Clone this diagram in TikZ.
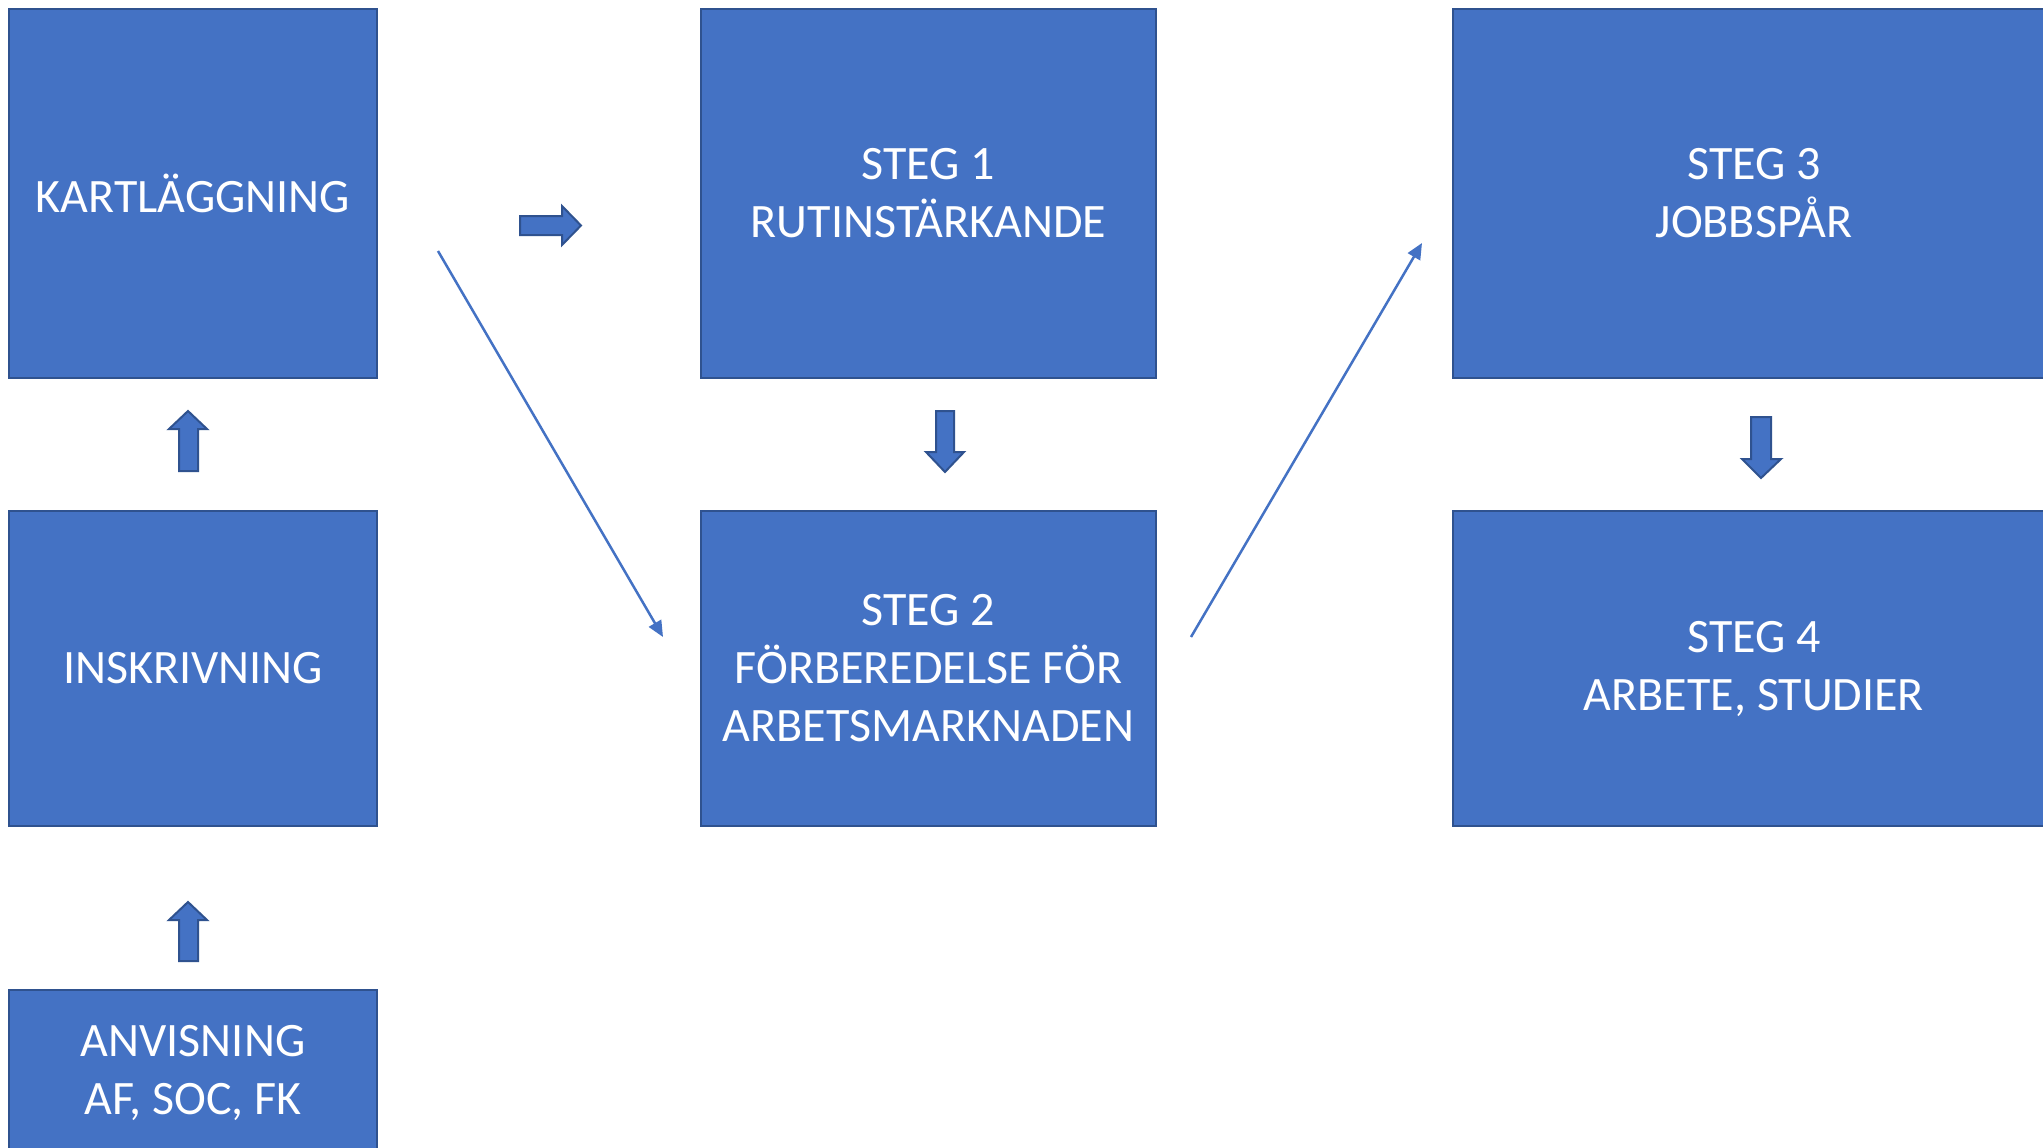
\documentclass[tikz,border=0pt]{standalone}
\usepackage{fontspec}
\setmainfont{Carlito}
\usetikzlibrary{arrows.meta}
\definecolor{boxfill}{HTML}{4472C4}
\definecolor{boxline}{HTML}{2F528F}
\begin{document}
\begin{tikzpicture}[x=1pt,y=-1pt,
  stepbox/.style={draw=boxline, fill=boxfill, line width=2pt, text=white, align=center,
    font=\fontsize{48}{58}\selectfont, inner sep=0pt, outer sep=0pt},
  blockarrow/.style={draw=boxline, fill=boxfill, line width=2pt, line join=miter},
  thinarrow/.style={draw=boxfill, line width=2.5pt, -{Triangle[length=16pt,width=14pt]}}]
\useasboundingbox[fill=white] (0,0) rectangle (2043,1148);
\clip (0,0) rectangle (2043,1148);
% boxes
\node[stepbox, minimum width=368pt, minimum height=369pt] (kart) at (193,193.5) {KARTLÄGGNING};
\node[stepbox, minimum width=368pt, minimum height=315pt] (insk) at (193,668.5) {INSKRIVNING};
\node[stepbox, minimum width=368pt, minimum height=166pt] (anv) at (193,1073) {ANVISNING\\AF, SOC, FK};
\node[stepbox, minimum width=455pt, minimum height=369pt] (steg1) at (928.5,193.5) {STEG 1\\RUTINSTÄRKANDE};
\node[stepbox, minimum width=455pt, minimum height=315pt] (steg2) at (928.5,668.5) {STEG 2\\FÖRBEREDELSE FÖR\\ARBETSMARKNADEN};
\node[stepbox, minimum width=602pt, minimum height=369pt] (steg3) at (1754,193.5) {STEG 3\\JOBBSPÅR};
\node[stepbox, minimum width=602pt, minimum height=315pt] (steg4) at (1754,668.5) {STEG 4\\ARBETE, STUDIER};
% block arrows
\draw[blockarrow] (179,471) -- (179,429) -- (169,429) -- (188,411) -- (207,429) -- (198,429) -- (198,471) -- cycle;
\draw[blockarrow] (179,961) -- (179,920) -- (169,920) -- (188,902) -- (207,920) -- (198,920) -- (198,961) -- cycle;
\draw[blockarrow] (520,216) -- (562,216) -- (562,206) -- (581,225.5) -- (562,245) -- (562,235) -- (520,235) -- cycle;
\draw[blockarrow] (936,411) -- (954,411) -- (954,452) -- (964,452) -- (945,472) -- (926,452) -- (936,452) -- cycle;
\draw[blockarrow] (1751,417) -- (1771,417) -- (1771,459) -- (1781,459) -- (1761,478) -- (1742,459) -- (1751,459) -- cycle;
% thin connectors
\coordinate (c1s) at (438,251);
\coordinate (c1e) at (663,637);
\coordinate (c2s) at (1191,637);
\coordinate (c2e) at (1422,243);
\draw[thinarrow] (c1s) -- (c1e);
\draw[thinarrow] (c2s) -- (c2e);
\end{tikzpicture}
\end{document}
